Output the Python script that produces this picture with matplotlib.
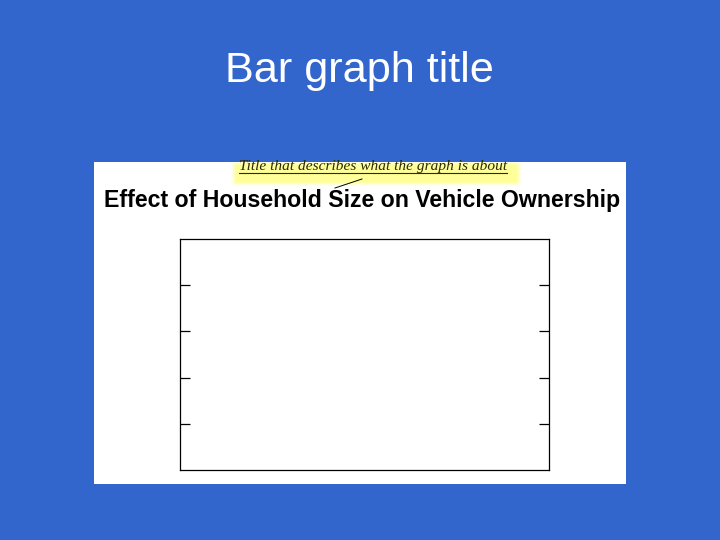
import matplotlib
matplotlib.use("Agg")
import matplotlib.pyplot as plt
from matplotlib.patches import Rectangle, FancyBboxPatch

# slide / chart texts
slide_title = "Bar graph title"
chart_title = "Effect of Household Size on Vehicle Ownership"
note_text = "Title that describes what the graph is about"

# the example graph is empty: only the y ticks are drawn
categories = []
values = []
y_min, y_max = 0, 5
y_ticks = [1, 2, 3, 4]

W, H = 720, 540
blue = "#3366CC"

fig = plt.figure(figsize=(W / 100, H / 100), dpi=100)
fig.patch.set_facecolor(blue)


def px(x, y):
    """ pixel coords (from top-left) to figure fraction """
    return x / W, 1 - y / H


def fit_text(txt, target_w):
    """ change the font size until the text is target_w pixels wide """
    r = fig.canvas.get_renderer()
    for i in range(3):
        w = txt.get_window_extent(r).width
        txt.set_fontsize(txt.get_fontsize() * target_w / w)


# white panel with the graph on it
x0, y0 = px(94, 484)
panel = Rectangle((x0, y0), (626 - 94) / W, (484 - 162) / H,
                  transform=fig.transFigure, facecolor="white",
                  edgecolor="none", zorder=0)
fig.patches.append(panel)

# yellow highlight behind the note, layered to look a bit blurry
hx, hy = px(236, 182)
for pad, a in [(5, 0.25), (3, 0.45), (1, 1.0)]:
    box = FancyBboxPatch((hx, hy), (516 - 236) / W, (182 - 165) / H,
                         boxstyle="round,pad=%f" % (pad / W),
                         transform=fig.transFigure,
                         facecolor="#FFFF99", edgecolor="none",
                         alpha=a, zorder=1)
    box.set_clip_path(panel)
    fig.patches.append(box)

# slide title
t = fig.text(*px(359, 82), slide_title, color="white", ha="center",
             va="baseline", fontsize=30, family="Liberation Sans")
fit_text(t, 269)

# note above the chart title
n = fig.text(*px(373, 170), note_text, color="#2a2a05", ha="center",
             va="baseline", fontsize=10.5, family="Liberation Serif",
             style="italic", zorder=3)
fit_text(n, 268)
ux0, uy = px(239, 172.5)
ux1, _ = px(507, 172.5)
fig.add_artist(plt.Line2D([ux0, ux1], [uy, uy], color="#2a2a05", lw=0.8,
                          transform=fig.transFigure, zorder=3))
# pointer line from note down to title
lx0, ly0 = px(362, 179)
lx1, ly1 = px(335, 188)
fig.add_artist(plt.Line2D([lx0, lx1], [ly0, ly1], color="black", lw=0.7,
                          transform=fig.transFigure, zorder=3))

# chart title
c = fig.text(*px(362, 207), chart_title, color="black", ha="center",
             va="baseline", fontsize=15, family="Liberation Sans",
             weight="bold")
fit_text(c, 516)

# the empty plot area
ax_l, ax_b = px(180, 470)
ax = fig.add_axes([ax_l, ax_b, (549 - 180) / W, (470 - 239) / H])
ax.set_zorder(2)
ax.bar(categories, values)
ax.set_ylim(y_min, y_max)
ax.set_yticks(y_ticks)
ax.set_yticklabels([])
ax.set_xticks([])
ax.tick_params(axis="y", direction="in", left=True, right=True,
               length=7, width=0.9, color="black")
for s in ax.spines.values():
    s.set_linewidth(0.9)
    s.set_color("black")

fig.savefig("out.png", dpi=100, facecolor=blue)
